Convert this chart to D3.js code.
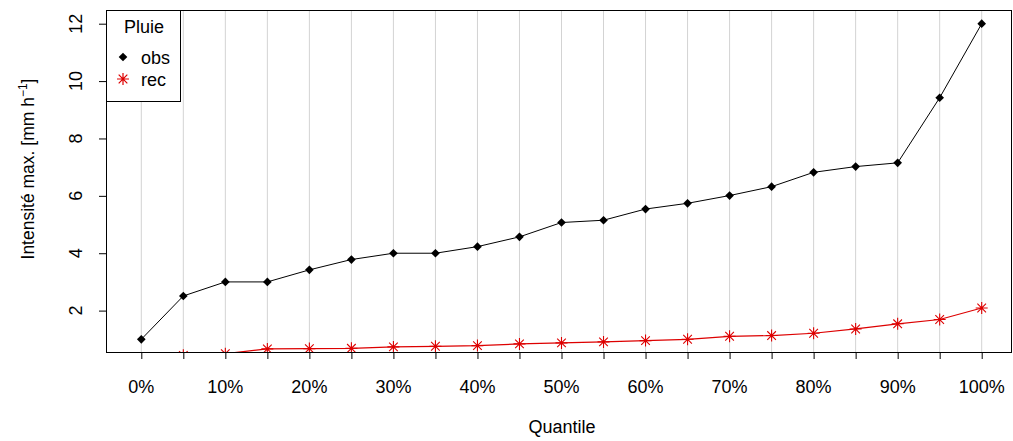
<!DOCTYPE html>
<html><head><meta charset="utf-8">
<script src="https://cdn.jsdelivr.net/npm/d3@7"></script>
<style>body{margin:0;background:#fff}svg{display:block}text{font-family:"Liberation Sans",Arial,sans-serif}</style>
</head><body>
<script>
const quantiles = [0,5,10,15,20,25,30,35,40,45,50,55,60,65,70,75,80,85,90,95,100];
const obs = [1.0,2.51,3.0,3.0,3.42,3.78,4.0,4.0,4.23,4.57,5.07,5.15,5.54,5.74,6.01,6.32,6.82,7.02,7.15,9.42,12.0];
const rec = [0.3,0.44,0.5,0.665,0.676,0.686,0.735,0.756,0.78,0.84,0.875,0.91,0.955,1.0,1.105,1.13,1.21,1.36,1.54,1.69,2.09];
const xTickLabels = ["0%","10%","20%","30%","40%","50%","60%","70%","80%","90%","100%"];
const yTicks = [2,4,6,8,10,12];

const W=1013,H=441;
const box={l:106,r:1012,t:10,b:352};
const svg=d3.select("body").append("svg").attr("width",W).attr("height",H);
const x=d3.scaleLinear().domain([0,100]).range([141.3,981.7]);
const y=d3.scaleLinear().domain([1,12]).range([339.3,23.7]);

svg.append("clipPath").attr("id","clip").append("rect")
  .attr("x",box.l).attr("y",box.t).attr("width",box.r-box.l).attr("height",box.b-box.t);

// grid
svg.append("g").selectAll("line").data(quantiles).join("line")
  .attr("x1",d=>x(d)).attr("x2",d=>x(d)).attr("y1",box.t).attr("y2",box.b)
  .attr("stroke","#d3d3d3").attr("stroke-width",1);

const g=svg.append("g").attr("clip-path","url(#clip)");
const line=d3.line().x((d,i)=>x(quantiles[i])).y(d=>y(d));
g.append("path").datum(obs).attr("d",line).attr("fill","none").attr("stroke","#000").attr("stroke-width",1);
g.append("path").datum(rec).attr("d",line).attr("fill","none").attr("stroke","#dd0000").attr("stroke-width",1.2);

// obs diamonds
const dsym=d3.symbol().type(d3.symbolDiamond2).size(48);
g.selectAll(".o").data(obs).join("path").attr("class","o")
  .attr("transform",(d,i)=>`translate(${x(quantiles[i])},${y(d)})`)
  .attr("d",dsym).attr("fill","#000");

// rec asterisks (pch 8)
const s=6;
const ast=`M${-s},0H${s}M0,${-s}V${s}M${-s*0.72},${-s*0.72}L${s*0.72},${s*0.72}M${-s*0.72},${s*0.72}L${s*0.72},${-s*0.72}`;
g.selectAll(".r").data(rec).join("path").attr("class","r")
  .attr("transform",(d,i)=>`translate(${x(quantiles[i])},${y(d)})`)
  .attr("d",ast).attr("fill","none").attr("stroke","#dd0000").attr("stroke-width",1.1);

// box
svg.append("rect").attr("x",box.l+0.5).attr("y",box.t+0.5).attr("width",box.r-box.l-1).attr("height",box.b-box.t)
  .attr("fill","none").attr("stroke","#000").attr("stroke-width",1);

// x axis
const xa=svg.append("g").attr("transform",`translate(0,${box.b})`)
  .call(d3.axisBottom(x).tickValues(quantiles).tickSize(7).tickFormat(""));
xa.select(".domain").remove();
xa.selectAll("line").attr("stroke","#000");
svg.append("g").selectAll("text").data(xTickLabels).join("text")
  .attr("x",(d,i)=>x(i*10)).attr("y",393).attr("text-anchor","middle")
  .attr("font-size",18).text(d=>d);
svg.append("text").attr("x",562).attr("y",433).attr("text-anchor","middle").attr("font-size",18).text("Quantile");

// y axis
const ya=svg.append("g").attr("transform",`translate(${box.l},0)`)
  .call(d3.axisLeft(y).tickValues(yTicks).tickSize(7).tickFormat(""));
ya.select(".domain").remove();
ya.selectAll("line").attr("stroke","#000");
svg.append("g").selectAll("text").data(yTicks).join("text")
  .attr("transform",d=>`translate(82,${y(d)}) rotate(-90)`).attr("text-anchor","middle")
  .attr("font-size",18).text(d=>d);
const yt=svg.append("text").attr("transform",`translate(34,169) rotate(-90)`).attr("text-anchor","middle").attr("font-size",17.5);
yt.append("tspan").text("Intensité max. [mm h");
yt.append("tspan").attr("dy",-7).attr("font-size",12).text("−1");
yt.append("tspan").attr("dy",7).text("]");

// legend
const lg=svg.append("g");
lg.append("rect").attr("x",box.l+0.5).attr("y",box.t+0.5).attr("width",74).attr("height",91)
  .attr("fill","#fff").attr("stroke","#000");
lg.append("text").attr("x",144).attr("y",33).attr("text-anchor","middle").attr("font-size",18).text("Pluie");
lg.append("path").attr("transform","translate(123,57)").attr("d",dsym).attr("fill","#000");
lg.append("text").attr("x",141).attr("y",64).attr("font-size",18).text("obs");
lg.append("path").attr("transform","translate(123,79)").attr("d",ast).attr("fill","none").attr("stroke","#dd0000").attr("stroke-width",1.2);
lg.append("text").attr("x",141).attr("y",86).attr("font-size",18).text("rec");
</script>
</body></html>
